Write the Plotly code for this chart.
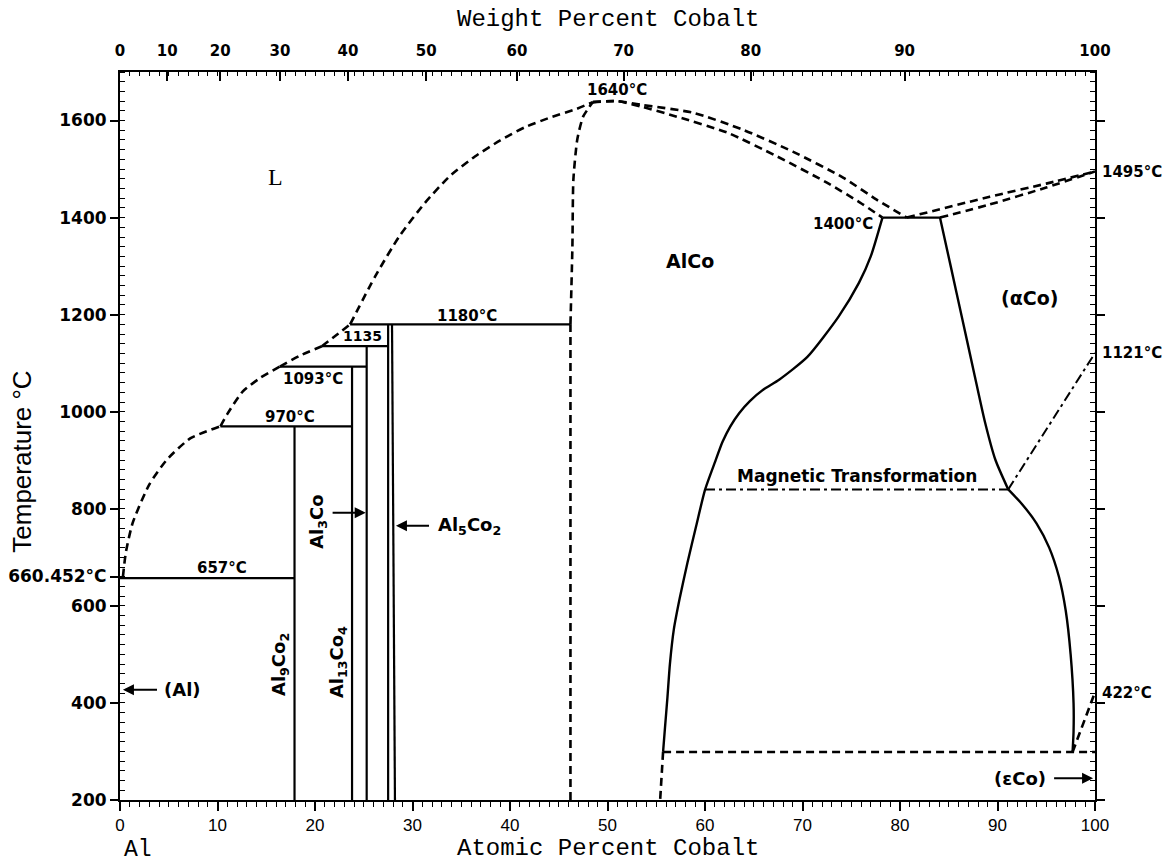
import plotly.graph_objects as go

# ---------------- axis data ----------------
M_AL = 26.9815
M_CO = 58.9332
at_ticks = list(range(0, 101, 10))
wt_ticks = list(range(0, 101, 10))
temp_ticks = [200, 400, 600, 800, 1000, 1200, 1400, 1600]
al_melt = 660.452
right_T = [1495, 1121, 422]
right_txt = ["1495°C", "1121°C", "422°C"]

# ---------------- liquidus (dashed) ----------------
liq_a_x = [0.3, 0.6, 1.3, 3.0, 4.8, 7.2, 10.3]
liq_a_T = [660, 710, 771, 850, 901, 945, 970]
liq_b_x = [10.3, 11.0, 12.6, 14.4, 16.4]
liq_b_T = [970, 995, 1042, 1070, 1093]
liq_c_x = [16.4, 18.5, 20.7]
liq_c_T = [1093, 1116, 1135]
liq_d_x = [20.7, 22.2, 23.6]
liq_d_T = [1135, 1158, 1180]
liq_e_x = [23.6, 26.2, 28.7, 31.3, 33.8, 36.4, 39.0, 41.5, 44.1, 46.7, 48.5]
liq_e_T = [1180, 1280, 1363, 1431, 1485, 1526, 1559, 1586, 1606, 1623, 1638]
liq_f_x = [48.5, 51.0, 53.6, 58.8, 63.9, 69.0, 74.2, 77.6, 80.7]
liq_f_T = [1638, 1640, 1632, 1616, 1581, 1536, 1482, 1437, 1400]
liq_g_x = [80.7, 89.2, 95.0, 100.0]
liq_g_T = [1400, 1443, 1470, 1495]

# ---------------- solidus (dashed) ----------------
sol_alco_l_x = [46.2, 46.4, 46.5, 46.9, 47.5, 48.5]
sol_alco_l_T = [1180, 1340, 1478, 1561, 1608, 1638]
sol_alco_r_x = [48.5, 51.0, 53.6, 57.1, 62.3, 67.4, 72.5, 75.9, 78.2]
sol_alco_r_T = [1638, 1640, 1628, 1608, 1575, 1526, 1472, 1431, 1400]
sol_co_x = [84.1, 89.2, 95.0, 100.0]
sol_co_T = [1400, 1427, 1462, 1495]
alco_l_low_x = [46.2, 46.2]
alco_l_low_T = [200, 1180]
alco_r_low_x = [55.7, 55.4]
alco_r_low_T = [299, 200]
eutectoid_x = [55.7, 100.0]
eutectoid_T = [299, 299]
eps_x = [97.7, 100.0]
eps_T = [299, 422]

# ---------------- solid boundaries ----------------
alco_r_x = [78.2, 77.0, 75.8, 73.7, 70.5, 67.6, 66.0, 64.6, 63.5, 62.6, 61.8, 61.0, 60.0,
            59.1, 58.2, 57.4, 56.8, 56.4, 56.15, 55.9, 55.7]
alco_r_T = [1400, 1320, 1266, 1196, 1113, 1066, 1046, 1022, 997, 970, 938, 895, 839,
            765, 689, 615, 551, 480, 412, 350, 299]
aco_up_x = [84.1, 85.2, 86.4, 87.6, 88.7, 89.8, 91.1]
aco_up_T = [1400, 1300, 1190, 1080, 980, 900, 840]
aco_lo_x = [91.1, 92.5, 94.0, 95.3, 96.3, 97.0, 97.5, 97.8, 97.8, 97.7]
aco_lo_T = [840, 810, 770, 720, 660, 590, 500, 400, 340, 299]

# invariant horizontals
iso_T = [657, 970, 1093, 1135, 1180, 1400]
iso_x0 = [0.0, 10.3, 16.4, 20.7, 23.6, 78.2]
iso_x1 = [17.9, 23.8, 25.3, 27.5, 46.2, 84.1]

# compound verticals
comp_x_bot = [17.9, 23.8, 25.3, 27.5, 28.2]
comp_x_top = [17.9, 23.8, 25.3, 27.5, 27.9]
comp_T_top = [970, 1093, 1135, 1180, 1180]

# magnetic transformation (dash-dot)
mag_x = [60.0, 91.1]
mag_T = [840, 840]
curie_x = [91.1, 100.0]
curie_T = [840, 1121]


def wt_to_at(w):
    if w <= 0:
        return 0.0
    if w >= 100:
        return 100.0
    a = w / M_CO
    b = (100 - w) / M_AL
    return 100 * a / (a + b)


fig = go.Figure()
DASH = "8px,5px"
DASHDOT = "10px,4px,3px,4px"


def add(x, y, dash="solid", width=2.2, shape="linear", xaxis="x", yaxis="y"):
    fig.add_trace(go.Scatter(x=x, y=y, mode="lines", xaxis=xaxis, yaxis=yaxis,
                             line=dict(color="black", width=width, dash=dash, shape=shape, smoothing=0.6),
                             hoverinfo="skip", showlegend=False))


for xs, ts in [(liq_a_x, liq_a_T), (liq_b_x, liq_b_T), (liq_c_x, liq_c_T), (liq_d_x, liq_d_T),
               (liq_e_x, liq_e_T), (liq_f_x, liq_f_T), (liq_g_x, liq_g_T),
               (sol_alco_l_x, sol_alco_l_T), (sol_alco_r_x, sol_alco_r_T), (sol_co_x, sol_co_T)]:
    add(xs, ts, dash=DASH, width=2.6, shape="spline")
for xs, ts in [(alco_l_low_x, alco_l_low_T), (alco_r_low_x, alco_r_low_T),
               (eutectoid_x, eutectoid_T), (eps_x, eps_T)]:
    add(xs, ts, dash=DASH, width=2.6)
for xs, ts in [(alco_r_x, alco_r_T), (aco_up_x, aco_up_T), (aco_lo_x, aco_lo_T)]:
    add(xs, ts, width=2.4, shape="spline")
for t, a, b in zip(iso_T, iso_x0, iso_x1):
    add([a, b], [t, t], width=2.2)
for xb, xt, tt in zip(comp_x_bot, comp_x_top, comp_T_top):
    add([xb, xt], [200, tt], width=2.2)
add(mag_x, mag_T, dash=DASHDOT, width=2.0)
add(curie_x, curie_T, dash=DASHDOT, width=2.0)

# invisible traces that activate the secondary axes
for xa, ya in [("x2", "y"), ("x", "y2"), ("x", "y3")]:
    fig.add_trace(go.Scatter(x=[None], y=[None], xaxis=xa, yaxis=ya, showlegend=False, hoverinfo="skip"))

DF = "DejaVu Sans"
ann = []


def lab(text, x, y, size=15, xanchor="center", yanchor="middle", angle=0, family=DF, bold=True):
    ann.append(dict(text=("<b>%s</b>" % text) if bold else text, x=x, y=y, xref="x", yref="y",
                    showarrow=False, xanchor=xanchor, yanchor=yanchor, textangle=angle,
                    font=dict(family=family, size=size, color="black")))


def arrow(x0, x1, y):
    ann.append(dict(text=" ", x=x1, y=y, ax=x0, ay=y, xref="x", yref="y", axref="x", ayref="y",
                    showarrow=True, arrowhead=2, arrowsize=1.1, arrowwidth=2, arrowcolor="black",
                    font=dict(size=4)))


def ptext(text, x, y, size, family, xref="paper", angle=0):
    ann.append(dict(text=text, x=x, y=y, xref=xref, yref="paper", xanchor="center", yanchor="middle",
                    textangle=angle, showarrow=False, font=dict(family=family, size=size, color="black")))


lab("L", 15.9, 1483, size=24, family="Liberation Serif", bold=False)
lab("AlCo", 58.5, 1310, size=19)
lab("(αCo)", 93.3, 1235, size=19)
lab("1640°C", 51.0, 1662, size=15)
lab("1400°C", 77.4, 1386, size=15, xanchor="right")
lab("1180°C", 35.6, 1198, size=15)
lab("1135", 24.9, 1157, size=14)
lab("1093°C", 19.8, 1068, size=15)
lab("970°C", 17.4, 990, size=15)
lab("657°C", 10.5, 678, size=15)
lab("Magnetic Transformation", 75.6, 868, size=17)
lab("(Al)", 4.3, 427, size=18, xanchor="left")
lab("Al<sub>9</sub>Co<sub>2</sub>", 16.4, 480, size=18, angle=-90)
lab("Al<sub>13</sub>Co<sub>4</sub>", 22.3, 485, size=18, angle=-90)
lab("Al<sub>3</sub>Co", 20.3, 773, size=18, angle=-90)
lab("Al<sub>5</sub>Co<sub>2</sub>", 32.4, 765, size=18, xanchor="left")
lab("(εCo)", 95.2, 245, size=18, xanchor="right")
arrow(4.0, 0.3, 427)
arrow(21.6, 25.2, 792)
arrow(31.9, 28.3, 765)
arrow(95.6, 99.8, 245)

# axis titles and end labels
ptext("Atomic Percent Cobalt", 0.5, -0.067, 24, "Liberation Mono")
ptext("Weight Percent Cobalt", 0.5, 1.072, 24, "Liberation Mono")
ptext("Temperature °C", -0.1, 0.464, 26, "Liberation Sans", angle=-90)
ptext("Al", 1.8, -0.069, 23, "Liberation Mono", xref="x")
ptext("Co", 101.4, -0.073, 23, "Liberation Mono", xref="x")

axis_common = dict(showgrid=False, zeroline=False, showline=True, linecolor="black", linewidth=2,
                   tickcolor="black", tickwidth=1.6, automargin=False)

fig.update_layout(
    width=1175, height=866,
    margin=dict(l=120, r=80, t=72, b=66),
    paper_bgcolor="white", plot_bgcolor="white",
    annotations=ann,
    xaxis=dict(range=[0, 100], tickmode="array", tickvals=at_ticks,
               ticktext=[str(v) for v in at_ticks], ticks="outside", ticklen=9,
               minor=dict(dtick=1, ticks="outside", ticklen=5, tickcolor="black", tickwidth=1.2),
               tickfont=dict(family="Liberation Sans Narrow, Liberation Sans", size=17, color="black"),
               **axis_common),
    xaxis2=dict(range=[0, 100], overlaying="x", side="top", anchor="y", tickmode="array",
                tickvals=[wt_to_at(w) for w in wt_ticks],
                ticktext=["<b>%d</b>" % w for w in wt_ticks], ticks="inside", ticklen=9,
                ticklabelstandoff=8,
                minor=dict(dtick=1, ticks="inside", ticklen=4, tickcolor="black", tickwidth=1.2),
                tickfont=dict(family=DF, size=15, color="black"), **axis_common),
    yaxis=dict(range=[200, 1700], tickmode="array", tickvals=temp_ticks + [al_melt],
               ticktext=["<b>%d</b>" % t for t in temp_ticks] + ["<b>660.452°C</b>"],
               ticks="outside", ticklen=8,
               minor=dict(dtick=20, tick0=200, ticks="inside", ticklen=5, tickcolor="black", tickwidth=1.2),
               tickfont=dict(family=DF, size=17, color="black"), **axis_common),
    yaxis2=dict(range=[200, 1700], overlaying="y", side="right", anchor="x", tickmode="array",
                tickvals=temp_ticks, showticklabels=False, ticks="outside", ticklen=8,
                minor=dict(dtick=20, tick0=200, ticks="inside", ticklen=5, tickcolor="black", tickwidth=1.2),
                **axis_common),
    yaxis3=dict(range=[200, 1700], overlaying="y", side="right", anchor="x", tickmode="array",
                tickvals=right_T, ticktext=["<b>%s</b>" % s for s in right_txt], ticks="",
                showgrid=False, zeroline=False, showline=False, automargin=False,
                ticklabelstandoff=6,
                tickfont=dict(family=DF, size=15, color="black")),
)

fig.write_html("out.html", config={"displayModeBar": False},
               post_script="document.body.style.margin='0';document.body.style.overflow='hidden';")
